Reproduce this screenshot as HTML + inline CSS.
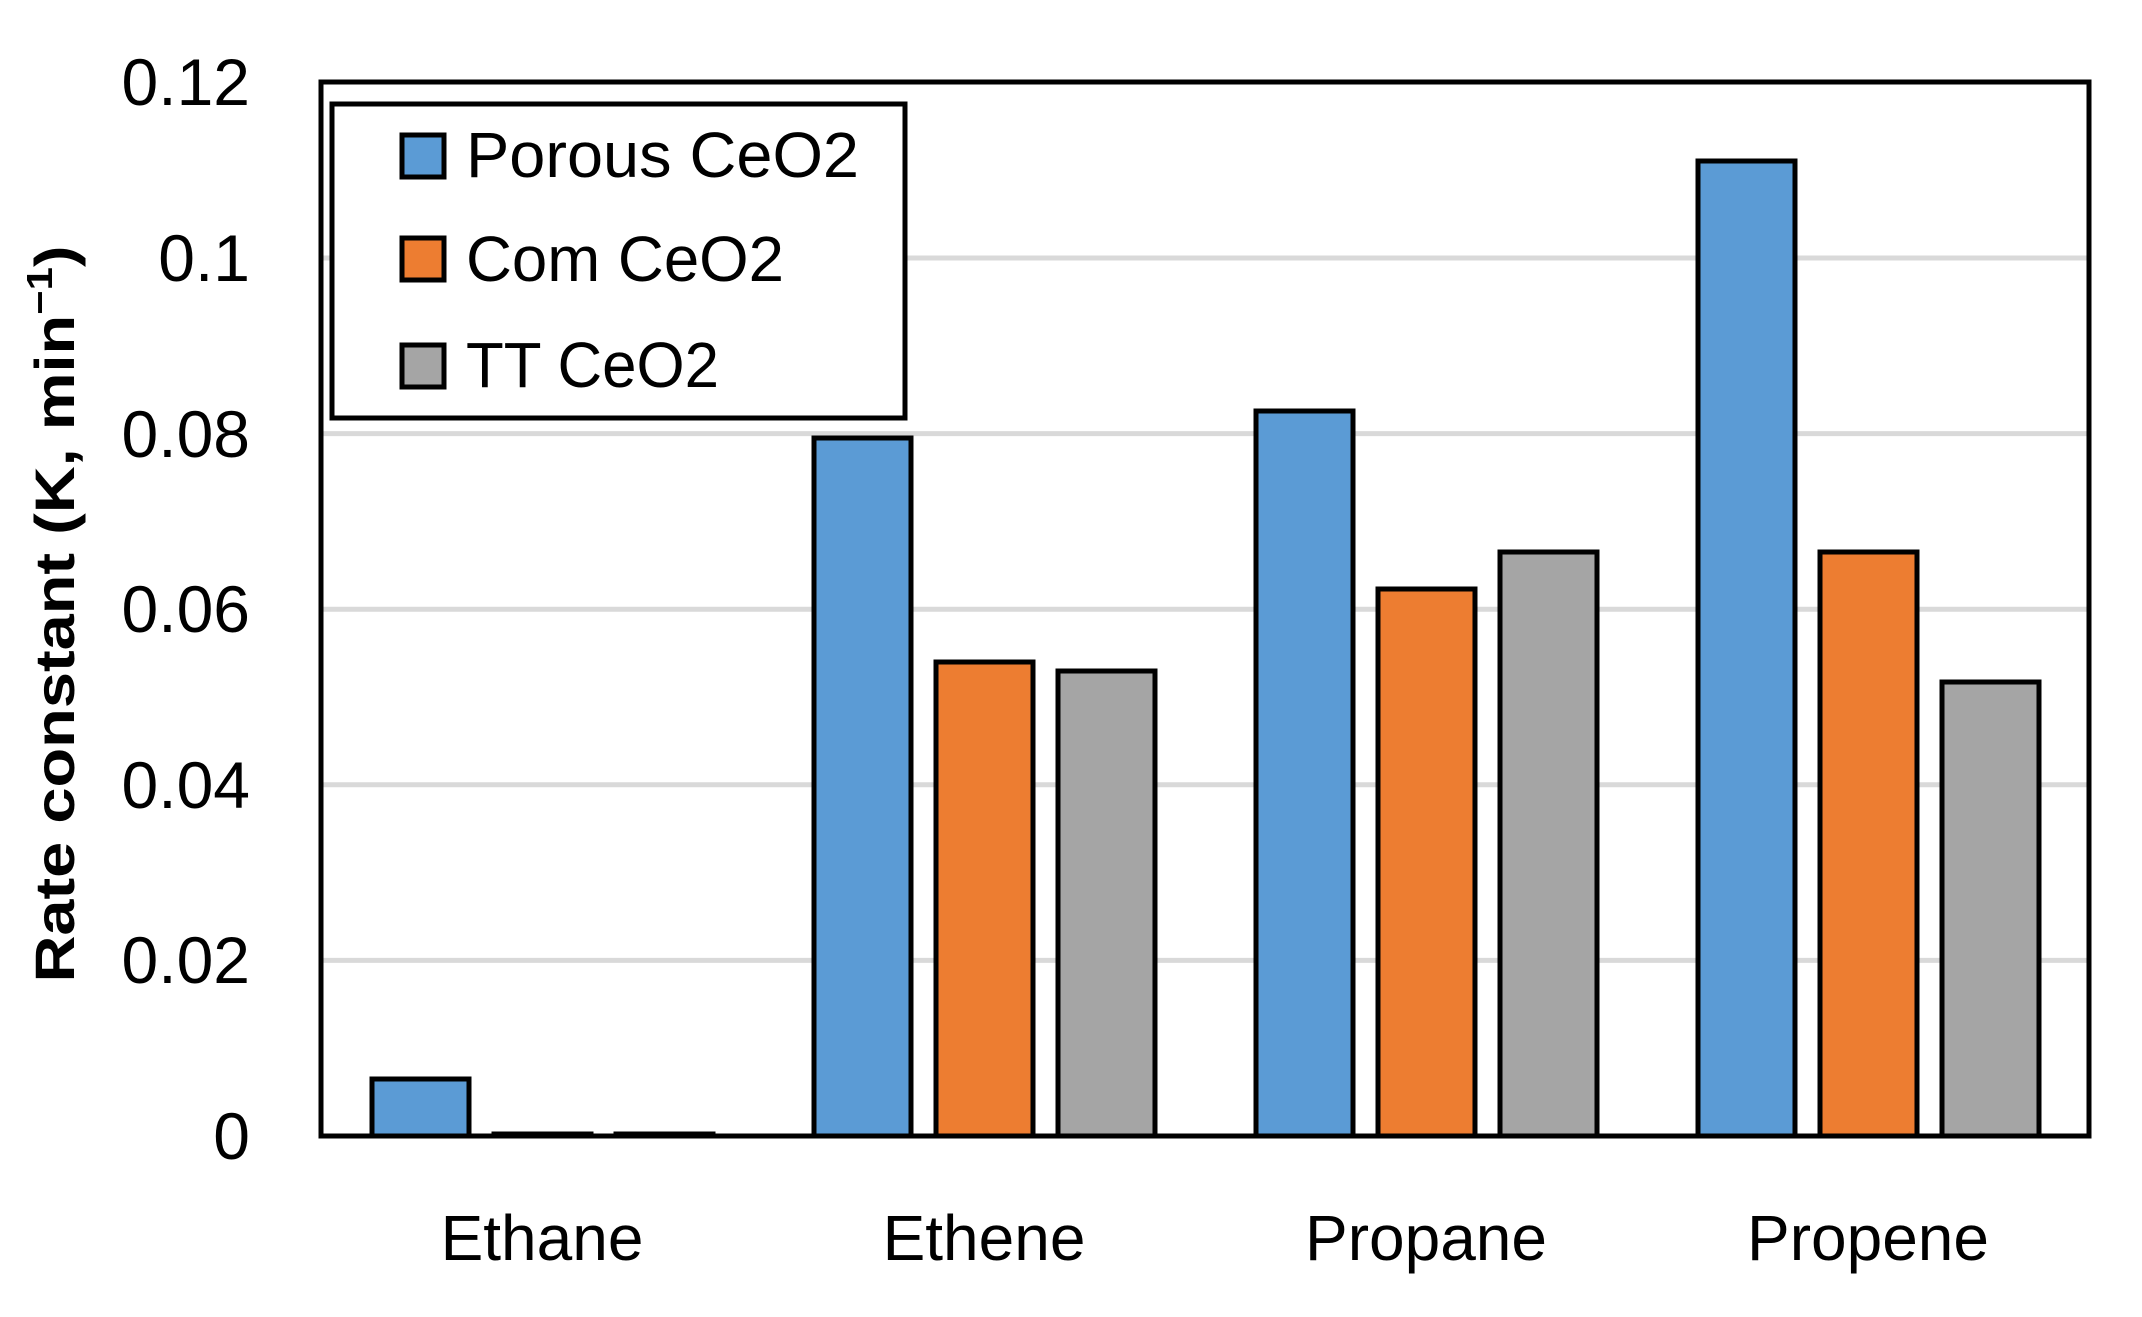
<!DOCTYPE html>
<html><head><meta charset="utf-8"><style>html,body{margin:0;padding:0;background:#fff}svg{display:block}</style></head>
<body>
<svg width="2142" height="1317" viewBox="0 0 2142 1317" xmlns="http://www.w3.org/2000/svg" font-family="Liberation Sans, sans-serif">
<rect width="2142" height="1317" fill="#fff"/>
<g stroke="#d9d9d9" stroke-width="5">
<line x1="321" y1="960.4" x2="2089" y2="960.4"/>
<line x1="321" y1="784.8" x2="2089" y2="784.8"/>
<line x1="321" y1="609.2" x2="2089" y2="609.2"/>
<line x1="321" y1="433.6" x2="2089" y2="433.6"/>
<line x1="321" y1="258" x2="2089" y2="258"/>
</g>
<g stroke="#000" stroke-width="5">
<rect x="372" y="1079" width="97" height="57" fill="#5b9bd5"/>
<rect x="494" y="1134" width="97" height="2" fill="#ed7d31"/>
<rect x="616" y="1134" width="97" height="2" fill="#a5a5a5"/>
<rect x="814" y="438" width="97" height="698" fill="#5b9bd5"/>
<rect x="936" y="662" width="97" height="474" fill="#ed7d31"/>
<rect x="1058" y="671" width="97" height="465" fill="#a5a5a5"/>
<rect x="1256" y="411" width="97" height="725" fill="#5b9bd5"/>
<rect x="1378" y="589" width="97" height="547" fill="#ed7d31"/>
<rect x="1500" y="552" width="97" height="584" fill="#a5a5a5"/>
<rect x="1698" y="161" width="97" height="975" fill="#5b9bd5"/>
<rect x="1820" y="552" width="97" height="584" fill="#ed7d31"/>
<rect x="1942" y="682" width="97" height="454" fill="#a5a5a5"/>
</g>
<rect x="321" y="82" width="1768" height="1054" fill="none" stroke="#000" stroke-width="5"/>
<g font-size="66" fill="#000" text-anchor="end">
<text x="250" y="1159">0</text>
<text x="250" y="983">0.02</text>
<text x="250" y="808">0.04</text>
<text x="250" y="632">0.06</text>
<text x="250" y="457">0.08</text>
<text x="250" y="281">0.1</text>
<text x="250" y="105">0.12</text>
</g>
<g font-size="64" fill="#000" text-anchor="middle">
<text x="542" y="1260">Ethane</text>
<text x="984" y="1260">Ethene</text>
<text x="1426" y="1260">Propane</text>
<text x="1868" y="1260">Propene</text>
</g>
<text transform="translate(74,614) rotate(-90)" text-anchor="middle" font-size="56" font-weight="bold" textLength="737" lengthAdjust="spacingAndGlyphs">Rate constant (K, min<tspan font-size="36" dy="-22">−1</tspan><tspan dy="22">)</tspan></text>
<rect x="332" y="104" width="573" height="314" fill="#fff" stroke="#000" stroke-width="5"/>
<g stroke="#000" stroke-width="5">
<rect x="402" y="135" width="42" height="42" fill="#5b9bd5"/>
<rect x="402" y="238" width="42" height="42" fill="#ed7d31"/>
<rect x="402" y="345" width="42" height="42" fill="#a5a5a5"/>
</g>
<g font-size="64" fill="#000">
<text x="466" y="177" textLength="393" lengthAdjust="spacingAndGlyphs">Porous CeO2</text>
<text x="466" y="281" textLength="318" lengthAdjust="spacingAndGlyphs">Com CeO2</text>
<text x="466" y="387" textLength="253" lengthAdjust="spacingAndGlyphs">TT CeO2</text>
</g>
</svg>
</body></html>
